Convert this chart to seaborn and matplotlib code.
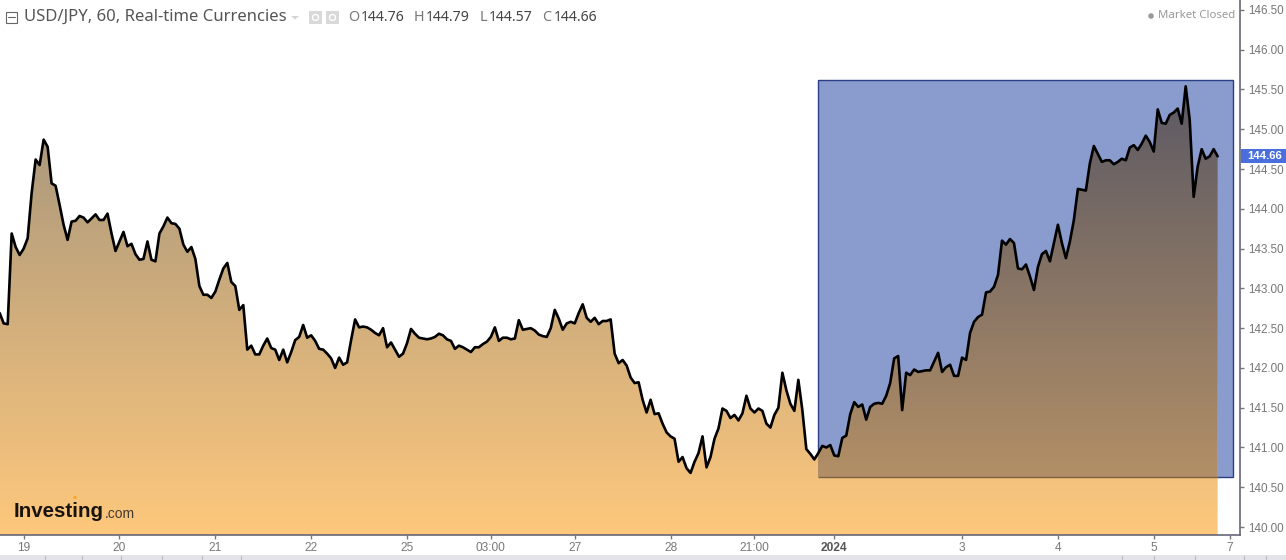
import numpy as np
import pandas as pd
import seaborn as sns
import matplotlib.pyplot as plt
from matplotlib.patches import Rectangle, Circle
from matplotlib.transforms import Affine2D

prices = [
    142.69, 142.56, 142.55, 143.69, 143.52, 143.42, 143.50, 143.63, 144.20, 144.62,
    144.55, 144.87, 144.78, 144.32, 144.29, 144.05, 143.80, 143.61, 143.84, 143.85,
    143.91, 143.89, 143.83, 143.88, 143.93, 143.86, 143.86, 143.94, 143.69, 143.47,
    143.59, 143.71, 143.53, 143.56, 143.43, 143.36, 143.37, 143.59, 143.36, 143.34,
    143.69, 143.78, 143.89, 143.82, 143.81, 143.75, 143.55, 143.46, 143.52, 143.37,
    143.03, 142.92, 142.92, 142.88, 142.96, 143.11, 143.25, 143.32, 143.08, 143.03,
    142.73, 142.79, 142.23, 142.28, 142.17, 142.17, 142.28, 142.37, 142.25, 142.23,
    142.10, 142.23, 142.07, 142.20, 142.35, 142.39, 142.54, 142.38, 142.41, 142.34,
    142.24, 142.23, 142.18, 142.12, 142.00, 142.13, 142.04, 142.07, 142.35, 142.61,
    142.51, 142.52, 142.51, 142.48, 142.44, 142.41, 142.50, 142.26, 142.32, 142.23,
    142.14, 142.18, 142.31, 142.49, 142.43, 142.38, 142.37, 142.36, 142.37, 142.39,
    142.43, 142.41, 142.36, 142.34, 142.24, 142.28, 142.26, 142.23, 142.20, 142.26,
    142.26, 142.30, 142.33, 142.39, 142.51, 142.34, 142.38, 142.38, 142.36, 142.37,
    142.60, 142.48, 142.49, 142.50, 142.47, 142.42, 142.40, 142.39, 142.50, 142.73,
    142.62, 142.48, 142.56, 142.58, 142.56, 142.69, 142.80, 142.63, 142.58, 142.63,
    142.55, 142.59, 142.59, 142.61, 142.18, 142.06, 142.10, 142.03, 141.88, 141.81,
    141.82, 141.60, 141.44, 141.60, 141.42, 141.43, 141.30, 141.19, 141.14, 141.11,
    140.82, 140.88, 140.74, 140.68, 140.82, 140.93, 141.14, 140.75, 140.88, 141.11,
    141.24, 141.49, 141.46, 141.37, 141.41, 141.34, 141.43, 141.65, 141.49, 141.44,
    141.49, 141.46, 141.30, 141.25, 141.41, 141.50, 141.94, 141.72, 141.55, 141.46,
    141.85, 141.47, 140.98, 140.92, 140.85, 140.93, 141.02, 141.00, 141.03, 140.90,
    140.89, 141.12, 141.15, 141.42, 141.57, 141.51, 141.54, 141.35, 141.51, 141.55,
    141.56, 141.55, 141.65, 141.81, 142.12, 142.15, 141.47, 141.94, 141.91, 141.98,
    141.95, 141.96, 141.97, 141.97, 142.08, 142.19, 141.95, 142.01, 142.04, 141.90,
    141.90, 142.13, 142.10, 142.44, 142.58, 142.64, 142.67, 142.95, 142.96, 143.02,
    143.17, 143.60, 143.55, 143.62, 143.57, 143.25, 143.24, 143.30, 143.15, 142.98,
    143.27, 143.43, 143.47, 143.34, 143.57, 143.80, 143.57, 143.38, 143.59, 143.86,
    144.25, 144.24, 144.23, 144.57, 144.79, 144.69, 144.59, 144.61, 144.61, 144.56,
    144.59, 144.63, 144.61, 144.77, 144.80, 144.74, 144.82, 144.92, 144.84, 144.72,
    145.25, 145.08, 145.07, 145.18, 145.21, 145.26, 145.07, 145.54, 145.12, 144.15,
    144.53, 144.75, 144.63, 144.66, 144.75, 144.66,
]
x_ticks = [6, 30, 54, 78, 102, 123, 144, 168, 189, 209, 241, 265, 289, 308]
x_labels = ["19", "20", "21", "22", "25", "03:00", "27", "28", "21:00", "2024", "3", "4", "5", "7"]
y_ticks = [140, 140.5, 141, 141.5, 142, 142.5, 143, 143.5, 144, 144.5, 145, 145.5, 146, 146.5]
box_x = [204.9, 308.9]
box_y = [140.63, 145.62]

df = pd.DataFrame({"bar": np.arange(len(prices)), "price": prices})

sns.set_theme(style="white")
plt.rcParams["font.family"] = ["Liberation Sans", "DejaVu Sans"]

fig = plt.figure(figsize=(12.86, 5.6), dpi=100)
ax = fig.add_axes([0, 25 / 560, 1240 / 1286, 535 / 560])
ax.set_xlim(0.075, 310.6)
ax.set_ylim(139.9, 146.625)

# blue box behind the area
ax.add_patch(Rectangle((box_x[0], box_y[0]), box_x[1] - box_x[0], box_y[1] - box_y[0],
                       facecolor="#8a9bcd", edgecolor="#2b3f86", lw=1, zorder=1))

# gradient area, one image over white and one where it crosses the box
area = ax.fill_between(df["bar"], df["price"], 139.9, color="none", zorder=0)
clip = area.get_paths()[0]


def gradient(top, bottom):
    ramp = np.linspace(0, 1, 256)[:, None, None]
    return (np.array(top) + (np.array(bottom) - np.array(top)) * ramp) / 255


img = ax.imshow(gradient((172, 153, 125), (254, 200, 124)), aspect="auto", zorder=2,
                extent=[0, len(prices) - 1, 139.9, 144.9], interpolation="bilinear")
img.set_clip_path(clip, transform=ax.transData)
img2 = ax.imshow(gradient((90, 88, 100), (178, 143, 102)), aspect="auto", zorder=3,
                 extent=[box_x[0], box_x[1], box_y[0], box_y[1]], interpolation="bilinear")
img2.set_clip_path(clip, transform=ax.transData)
ax.hlines(box_y[0], box_x[0], len(prices) - 1, color="#7a6040", lw=1, zorder=4)
ax.set_xlim(0.075, 310.6)
ax.set_ylim(139.9, 146.625)

sns.lineplot(data=df, x="bar", y="price", color="black", lw=1.9, ax=ax, zorder=5)

ax.set_xlabel("")
ax.set_ylabel("")
ax.yaxis.tick_right()
ax.set_yticks(y_ticks)
ax.set_yticklabels([f"{v:.2f}" for v in y_ticks], fontsize=8.4, color="#777777")
ax.set_xticks(x_ticks)
ax.set_xticklabels(x_labels, fontsize=8.6, color="#777777")
ax.get_xticklabels()[9].set_fontweight("bold")
ax.get_xticklabels()[9].set_color("#555555")
ax.tick_params(axis="both", length=3, width=1, color="#777777", pad=2, bottom=True, right=True)
ax.tick_params(axis="y", pad=3)
for side in ["top", "left"]:
    ax.spines[side].set_visible(False)
for side in ["right", "bottom"]:
    ax.spines[side].set_color("#666677")
    ax.spines[side].set_linewidth(1.2)

# everything else is placed in image pixels
px = Affine2D().scale(1, -1).translate(0, 560)


def label(x, y, s, **kw):
    fig.text(x, y, s, transform=px, va="center", **kw)


head = ["Noto Sans", "DejaVu Sans"]
fig.add_artist(Rectangle((5.5, 11.5), 11, 11, transform=px, fc="none", ec="#666666", lw=0.8))
fig.add_artist(plt.Line2D([8, 15], [17, 17], transform=px, color="#666666", lw=0.8))
label(24, 17, "USD/JPY, 60, Real-time Currencies", fontsize=12, color="#555555", family=head)
fig.add_artist(plt.Polygon([[291, 16], [299, 16], [295, 19.5]], transform=px, fc="#d5d5d5", ec="none"))
fig.add_artist(Rectangle((309, 11), 13, 13, transform=px, fc="#d9d9d9", ec="none"))
fig.add_artist(Rectangle((326, 11), 13, 13, transform=px, fc="#d9d9d9", ec="none"))
fig.add_artist(Circle((315.5, 17.5), 3, transform=px, fc="none", ec="white", lw=1))
fig.add_artist(Circle((332.5, 17.5), 3, transform=px, fc="none", ec="white", lw=1))
for xl, xv, letter, val in [(348, 361, "O", "144.76"), (414, 426, "H", "144.79"),
                            (480, 489, "L", "144.57"), (542, 554, "C", "144.66")]:
    label(xl, 17.5, letter, fontsize=10.3, color="#777777", family=head)
    label(xv, 17.5, val, fontsize=10.1, color="#444444", family=head)

fig.add_artist(Circle((1151, 16), 2.8, transform=px, fc="#999999", ec="none"))
label(1158, 16, "Market Closed", fontsize=8.2, color="#999999", family=head)

fig.add_artist(Rectangle((1241, 149), 45, 14, transform=px, fc="#4a6fdc", ec="none", zorder=6))
label(1247, 156, "144.66", fontsize=8.2, color="white", fontweight="bold", zorder=7)

label(14, 511.5, "Investing", fontsize=14.8, color="#1a1410", fontweight="bold")
label(104.5, 513.5, ".com", fontsize=10, color="#443a30")
fig.add_artist(Circle((75, 497.5), 1.6, transform=px, fc="#f5a623", ec="none", zorder=7))

# scrollbar strip at the bottom
fig.add_artist(Rectangle((0, 555), 1286, 5, transform=px, fc="#e4e4e8", ec="none"))
for xb in [45, 82, 121, 162, 202, 241, 1122, 1154, 1195, 1244, 1266]:
    fig.add_artist(plt.Line2D([xb, xb], [556, 560], transform=px, color="#b8b8c0", lw=0.8))

fig.savefig("out.png", dpi=100)
